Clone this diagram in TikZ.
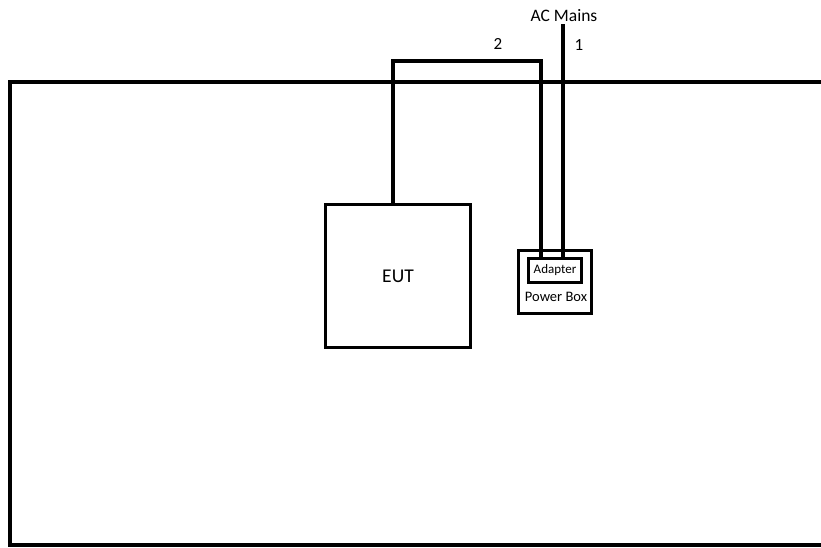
\documentclass[tikz,border=0pt]{standalone}
\usepackage{fontspec}
\setmainfont{Carlito}
\begin{document}
\begin{tikzpicture}[x=1pt,y=-1pt,
  wire/.style={line width=3.5pt},
  boxstyle/.style={draw,line width=3.5pt,minimum width=145pt,minimum height=143pt,inner sep=0pt},
  lbl/.style={inner sep=0pt,font=\fontsize{17}{17}\selectfont}]
\useasboundingbox (0,0) rectangle (821,547);
% enclosure (open to the right)
\draw[wire,line cap=rect] (835,82) -- (10,82) -- (10,545) -- (835,545);
% EUT
\node[boxstyle] (eut) at (398,276) {\fontsize{19.5}{19.5}\selectfont EUT};
% power box
\node[draw,line width=3pt,minimum width=73pt,minimum height=63pt,inner sep=0pt] (pbox) at (555,281.5) {};
\node[draw,line width=2.4pt,minimum width=53pt,minimum height=24pt,inner sep=0pt] (adapter) at (555,270.5) {\fontsize{13}{13}\selectfont Adapter};
\node[lbl,font=\fontsize{14.5}{14.5}\selectfont] (pblabel) at (556,297) {Power Box};
% AC mains
\node[lbl,font=\fontsize{17.5}{17.5}\selectfont] (ac) at (564,16) {AC Mains};
\coordinate (acend) at (563,24);
% cable 2
\draw[wire] (eut.north -| 393,0) -- (393,61) -- (541,61) -- (adapter.north -| 541,0);
% cable 1
\draw[wire] (acend) -- (adapter.north -| acend);
% cable labels
\node[lbl] (n2) at (498,44) {2};
\node[lbl] (n1) at (579,45) {1};
\end{tikzpicture}
\end{document}
